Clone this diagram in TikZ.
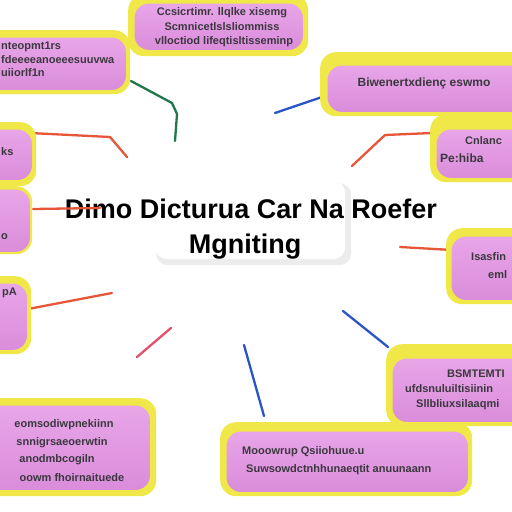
\documentclass[tikz,border=0pt]{standalone}
\usepackage{fontspec}
\setmainfont{Liberation Sans}
\definecolor{pinkt}{RGB}{232,166,232}
\definecolor{pinkb}{RGB}{218,140,218}
\definecolor{yelc}{RGB}{240,232,72}
\definecolor{txtc}{RGB}{58,56,62}
\definecolor{greenc}{RGB}{30,120,75}
\definecolor{redc}{RGB}{232,86,58}
\definecolor{rosec}{RGB}{226,80,106}
\definecolor{bluec}{RGB}{42,84,200}
\definecolor{platec}{RGB}{236,236,236}
\begin{document}
\begin{tikzpicture}[x=1pt,y=-1pt,
  glow/.style={fill=yelc, rounded corners=16pt, inner sep=0pt, anchor=north west},
  pinkbox/.style={top color=pinkt, bottom color=pinkb, draw=yelc, line width=1.5pt, rounded corners=15pt, inner sep=0pt, anchor=north west},
  btxt/.style={font=\bfseries\fontsize{11}{13}\selectfont, text=txtc, inner sep=0pt},
  conn/.style={line width=2.3pt, line cap=round, line join=round}]
\useasboundingbox (0,0) rectangle (512,512);
\clip (0,0) rectangle (512,512);
\fill[white] (0,0) rectangle (512,512);

% central plate
\node[fill=platec, rounded corners=12pt, minimum width=195pt, minimum height=82pt, anchor=north west, inner sep=0pt] (plateshadow) at (156,183) {};
\node[fill=white, rounded corners=12pt, minimum width=190pt, minimum height=78pt, anchor=north west, inner sep=0pt] (plate) at (155,181) {};
\node[font=\bfseries\fontsize{27}{30}\selectfont, text=black, inner sep=0pt] (title1) at (251,209) {Dimo Dicturua Car Na Roefer};
\node[font=\bfseries\fontsize{27}{30}\selectfont, text=black, inner sep=0pt] (title2) at (245,247) {Mgniting};

% connectors
\coordinate (g1) at (131,81); \coordinate (g2) at (172,103); \coordinate (g3) at (177,114); \coordinate (g4) at (175,141);
\draw[conn, greenc] (g1) -- (g2) -- (g3) -- (g4);
\coordinate (o1) at (30,133); \coordinate (o2) at (110,137); \coordinate (o3) at (127,157);
\draw[conn, redc] (o1) -- (o2) -- (o3);
\coordinate (r1) at (33,209); \coordinate (r2) at (100,208);
\draw[conn, redc] (r1) -- (r2);
\coordinate (r3) at (28,309); \coordinate (r4) at (112,293);
\draw[conn, redc] (r3) -- (r4);
\coordinate (p1) at (137,357); \coordinate (p2) at (171,328);
\draw[conn, rosec] (p1) -- (p2);
\coordinate (bl1) at (244,345); \coordinate (bl2) at (264,416);
\draw[conn, bluec] (bl1) -- (bl2);
\coordinate (bt1) at (275,113); \coordinate (bt2) at (325,96);
\draw[conn, bluec] (bt1) -- (bt2);
\coordinate (rr1) at (352,166); \coordinate (rr2) at (385,135); \coordinate (rr3) at (432,133);
\draw[conn, redc] (rr1) -- (rr2) -- (rr3);
\coordinate (rq1) at (400,247); \coordinate (rq2) at (452,250);
\draw[conn, redc] (rq1) -- (rq2);
\coordinate (bb1) at (343,311); \coordinate (bb2) at (388,347);
\draw[conn, bluec] (bb1) -- (bb2);

% top box
\node[glow, minimum width=180pt, minimum height=62pt] (g-b1) at (128,-6) {};
\node[pinkbox, minimum width=170pt, minimum height=48pt] (b1) at (133,2) {};
\node[btxt] (t1a) at (222,13) {Ccsicrtimr. llqlke xisemg};
\node[btxt] (t1b) at (222,27) {Scmnicetlslsliommiss};
\node[btxt] (t1c) at (224,42) {vlloctiod lifeqtisltisseminp};

% top-left box
\node[glow, minimum width=152pt, minimum height=64pt] (g-b2) at (-22,30) {};
\node[pinkbox, minimum width=146pt, minimum height=54pt] (b2) at (-20,36) {};
\node[btxt, anchor=west] (t2a) at (1,47) {nteopmt1rs};
\node[btxt, anchor=west] (t2b) at (1,60) {fdeeeeanoeeesuuvwa};
\node[btxt, anchor=west] (t2c) at (1,73) {uiiorlf1n};

% right box 1
\node[glow, minimum width=215pt, minimum height=64pt] (g-b3) at (320,52) {};
\node[pinkbox, minimum width=210pt, minimum height=48pt] (b3) at (326,64) {};
\node[btxt, font=\bfseries\fontsize{12}{14}\selectfont] (t3) at (424,83) {Biwenertxdienç eswmo};

% left small boxes
\node[glow, minimum width=58pt, minimum height=64pt] (g-b4) at (-22,122) {};
\node[pinkbox, minimum width=52pt, minimum height=52pt] (b4) at (-20,128) {};
\node[btxt, anchor=west] (t4) at (1,152) {ks};
\node[glow, minimum width=54pt, minimum height=68pt] (g-b5) at (-22,186) {};
\node[pinkbox, minimum width=50pt, minimum height=64pt] (b5) at (-20,188) {};
\node[btxt, anchor=west] (t5) at (1,237) {o};
\node[glow, minimum width=53pt, minimum height=78pt] (g-b8) at (-22,276) {};
\node[pinkbox, minimum width=47pt, minimum height=68pt] (b8) at (-20,282) {};
\node[btxt, anchor=west] (t8) at (2,293) {pA};

% right box 2
\node[glow, minimum width=100pt, minimum height=68pt] (g-b6) at (430,114) {};
\node[pinkbox, minimum width=95pt, minimum height=50pt] (b6) at (435,128) {};
\node[btxt, anchor=west] (t6a) at (465,141) {Cnlanc};
\node[btxt, anchor=west, font=\bfseries\fontsize{12}{14}\selectfont] (t6b) at (440,158) {Pe:hiba};

% right box 3
\node[glow, minimum width=84pt, minimum height=76pt] (g-b7) at (446,228) {};
\node[pinkbox, minimum width=80pt, minimum height=65pt] (b7) at (450,235) {};
\node[btxt, anchor=west] (t7a) at (471,257) {Isasfin};
\node[btxt, anchor=west] (t7b) at (488,275) {eml};

% right box 4
\node[glow, minimum width=144pt, minimum height=82pt] (g-b9) at (386,344) {};
\node[pinkbox, minimum width=139pt, minimum height=65pt] (b9) at (391,357) {};
\node[btxt, anchor=west] (t9a) at (447,374) {BSMTEMTI};
\node[btxt, anchor=west] (t9b) at (405,389) {ufdsnuluiltisiinin};
\node[btxt, anchor=west] (t9c) at (416,405) {Sllbliuxsilaaqmi};

% bottom-left box
\node[glow, minimum width=178pt, minimum height=98pt] (g-b10) at (-22,398) {};
\node[pinkbox, minimum width=170pt, minimum height=86pt] (b10) at (-20,404) {};
\node[btxt] (t10a) at (64,425) {eomsodiwpnekiinn};
\node[btxt] (t10b) at (62,443) {snnigrsaeoerwtin};
\node[btxt] (t10c) at (57,460) {anodmbcogiln};
\node[btxt] (t10d) at (72,478) {oowm fhoirnaituede};

% bottom-center box
\node[glow, minimum width=252pt, minimum height=74pt] (g-b11) at (220,422) {};
\node[pinkbox, minimum width=243pt, minimum height=62pt] (b11) at (225,430) {};
\node[btxt, anchor=west] (t11a) at (242,452) {Mooowrup Qsiiohuue.u};
\node[btxt, anchor=west] (t11b) at (246,470) {Suwsowdctnhhunaeqtit anuunaann};
\end{tikzpicture}
\end{document}
